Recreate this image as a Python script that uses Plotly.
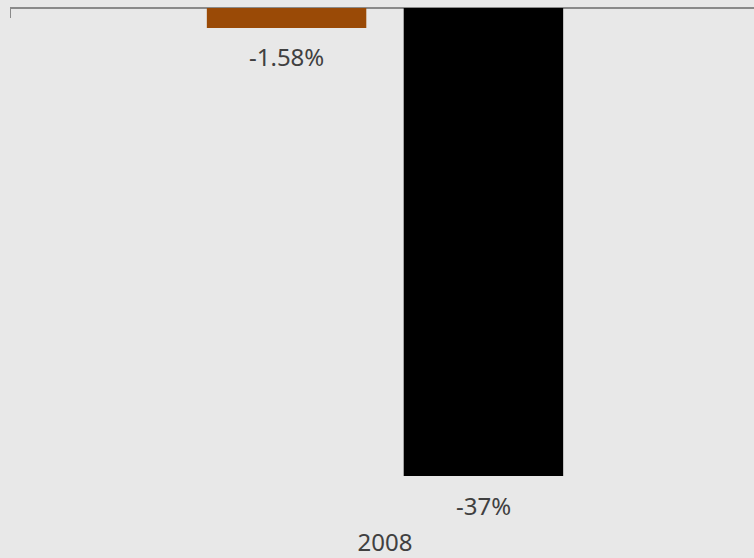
import plotly.graph_objects as go

# Data
categories = ["2008"]
series_names = ["Series A", "Series B"]
series_values = [[-1.58], [-37.0]]
series_colors = ["#9A4A06", "#000000"]
value_labels = ["-1.58%", "-37%"]

BG = "#E8E8E8"
TEXT = "#404040"
AXIS = "#8A8A8A"
FONT = "Noto Sans"

bargap = 0.475
bargroupgap = 0.19

fig = go.Figure()
for name, vals, color in zip(series_names, series_values, series_colors):
    fig.add_trace(go.Bar(
        x=categories, y=vals, name=name,
        marker=dict(color=color, line=dict(width=0)),
        showlegend=False, hoverinfo="skip",
    ))

# value labels beneath each bar, centred on the bar slots
slot = (1 - bargap) / len(series_values)
for i, (vals, lab) in enumerate(zip(series_values, value_labels)):
    xpos = -0.5 * (1 - bargap) + slot * (i + 0.5)
    fig.add_annotation(
        x=xpos, y=vals[0], xref="x", yref="y", text=lab, showarrow=False,
        yanchor="middle", yshift=-29,
        font=dict(family=FONT, size=24, color=TEXT),
    )

# small tick mark at the left category boundary
fig.add_shape(type="line", xref="x", yref="y", x0=-0.5, x1=-0.5, y0=0, y1=-0.8,
              line=dict(color=AXIS, width=2))

fig.update_layout(
    width=754, height=558,
    margin=dict(l=10, r=0, t=0, b=40),
    paper_bgcolor=BG, plot_bgcolor=BG,
    barmode="group", bargap=bargap, bargroupgap=bargroupgap,
    xaxis=dict(type="category", range=[-0.5, 0.492], showline=False, showgrid=False,
               zeroline=False, ticks="", automargin=False, ticklabelstandoff=8,
               tickfont=dict(family=FONT, size=24, color=TEXT)),
    yaxis=dict(range=[-40.32, 0.632], showgrid=False, showticklabels=False, ticks="",
               showline=False, automargin=False,
               zeroline=True, zerolinecolor=AXIS, zerolinewidth=2),
)

fig.write_html("out.html")
